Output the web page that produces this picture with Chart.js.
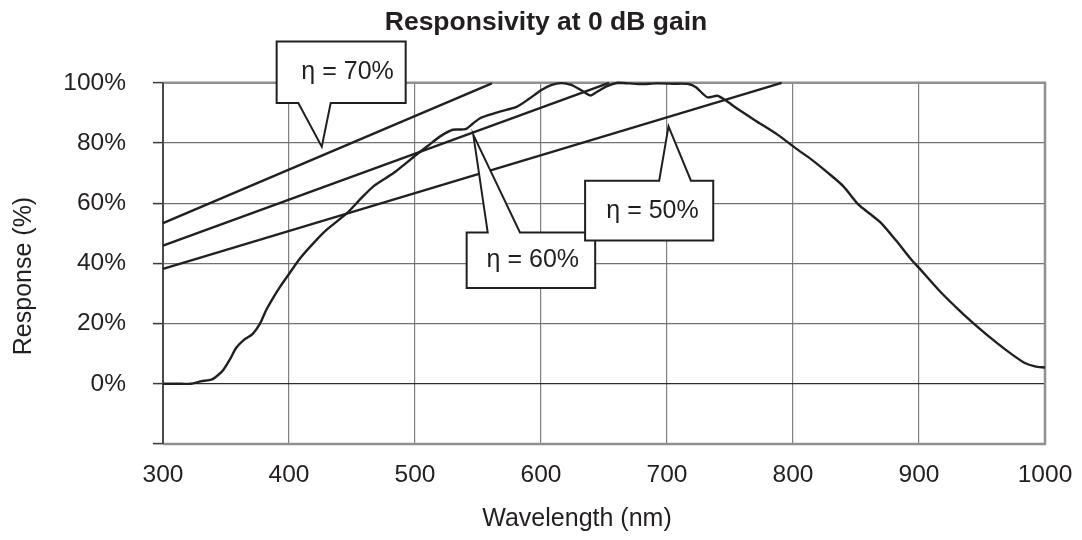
<!DOCTYPE html>
<html>
<head>
<meta charset="utf-8">
<script src="https://cdn.jsdelivr.net/npm/chart.js@4.4.1/dist/chart.umd.min.js"></script>
<style>
  html, body { margin: 0; padding: 0; background: #fff; }
  #wrap { width: 1082px; height: 540px; }
</style>
</head>
<body>
<div id="wrap"><canvas id="chart" width="1082" height="540"></canvas></div>
<script>
/* ── Data ────────────────────────────────────────────────── */
const wavelengths = [300, 315, 322, 330, 339, 344, 348, 353, 358, 364, 371, 377, 382, 388, 393, 400,
  409, 420, 430, 446, 457, 467, 483, 492, 501, 510, 520, 530, 540, 546, 552, 560, 568, 581, 590,
  600, 608, 616, 624, 632, 639, 643, 652, 661, 670, 679, 692, 705, 717, 723, 732, 740, 747, 755,
  770, 788, 802, 815, 828, 840, 852, 861, 870, 882, 894, 900, 916, 933, 949, 962, 974, 984, 992, 1000];
const response = [0, 0, 0, 0.8, 1.5, 3, 4.7, 8, 11.9, 14.5, 16.5, 20, 24.6, 29, 32.3, 36.5,
  41.8, 47, 51.2, 56.7, 61.5, 65.6, 70, 73, 76.1, 79, 82.2, 84.4, 84.6, 86.5, 88.3, 89.5, 90.5, 92.1, 94.5,
  97.5, 99.2, 99.9, 99.3, 97.5, 95.8, 96.6, 98.8, 100, 99.8, 99.6, 99.8, 99.7, 99.6, 98.5, 95.2, 95.7, 94, 91.6,
  87.5, 82.7, 78.3, 74.4, 70, 65.6, 59.5, 56.5, 53.4, 47.5, 41.2, 38.5, 31, 24, 18, 13.5, 9.7, 6.9, 5.8, 5.4];

// quantum-efficiency reference lines (straight, start at 300 nm)
const etaLabels   = ['η = 70%', 'η = 60%', 'η = 50%'];
const etaStartNm  = [300, 300, 300];
const etaStartPct = [53.4, 45.9, 38.2];
const etaEndNm    = [561, 654, 791];
const etaEndPct   = [99.8, 100, 100];

const xTicks = [300, 400, 500, 600, 700, 800, 900, 1000];
const yTicks = [-20, 0, 20, 40, 60, 80, 100];

/* ── Callout boxes (data coords) ─────────────────────────── */
const callouts = [
  { text: etaLabels[1], box: [541, 643, 50.3, 31.8], edge: 'top',    base: [557.7, 583.3], tip: [546.3, 82.7], at: [593.5, 41.0] },
  { text: etaLabels[2], box: [635, 736.7, 67.5, 47.6], edge: 'top',  base: [693.8, 719],   tip: [701.2, 85.5], at: [688.5, 57.4] },
  { text: etaLabels[0], box: [390.2, 492.6, 113.7, 93.3], edge: 'bottom', base: [407.4, 433.1], tip: [426, 78.8], at: [446.5, 103.6] }
];

const INK = '#231f20';
const FONT = '"Liberation Sans", Arial, Helvetica, sans-serif';

const calloutPlugin = {
  id: 'callouts',
  afterDatasetsDraw(chart) {
    const { ctx, scales: { x, y } } = chart;
    ctx.save();
    callouts.forEach(c => {
      const x1 = x.getPixelForValue(c.box[0]), x2 = x.getPixelForValue(c.box[1]);
      const yT = y.getPixelForValue(c.box[2]), yB = y.getPixelForValue(c.box[3]);
      const b1 = x.getPixelForValue(c.base[0]), b2 = x.getPixelForValue(c.base[1]);
      const tx = x.getPixelForValue(c.tip[0]), ty = y.getPixelForValue(c.tip[1]);
      ctx.beginPath();
      if (c.edge === 'top') {
        ctx.moveTo(x1, yT); ctx.lineTo(b1, yT); ctx.lineTo(tx, ty); ctx.lineTo(b2, yT);
        ctx.lineTo(x2, yT); ctx.lineTo(x2, yB); ctx.lineTo(x1, yB);
      } else {
        ctx.moveTo(x1, yT); ctx.lineTo(x2, yT); ctx.lineTo(x2, yB); ctx.lineTo(b2, yB);
        ctx.lineTo(tx, ty); ctx.lineTo(b1, yB); ctx.lineTo(x1, yB);
      }
      ctx.closePath();
      ctx.fillStyle = '#fff';
      ctx.fill();
      ctx.lineWidth = 2;
      ctx.strokeStyle = INK;
      ctx.lineJoin = 'miter';
      ctx.stroke();
      ctx.fillStyle = INK;
      ctx.font = `25px ${FONT}`;
      ctx.textAlign = 'center';
      ctx.textBaseline = 'middle';
      ctx.fillText(c.text, x.getPixelForValue(c.at[0]), y.getPixelForValue(c.at[1]));
    });
    ctx.restore();
  }
};

const framePlugin = {
  id: 'frame',
  beforeDatasetsDraw(chart) {
    const { ctx, chartArea: a } = chart;
    ctx.save();
    ctx.strokeStyle = '#8e9092';
    ctx.lineWidth = 2.5;
    ctx.beginPath();
    ctx.moveTo(a.left, a.top); ctx.lineTo(a.right, a.top);
    ctx.lineTo(a.right, a.bottom); ctx.lineTo(a.left, a.bottom);
    ctx.stroke();
    ctx.strokeStyle = '#4a4a4a';
    ctx.lineWidth = 2;
    ctx.beginPath();
    ctx.moveTo(a.left, a.top); ctx.lineTo(a.left, a.bottom);
    ctx.stroke();
    ctx.restore();
  }
};

const axisTitlePlugin = {
  id: 'axisTitles',
  afterDraw(chart) {
    const { ctx } = chart;
    ctx.save();
    ctx.fillStyle = INK;
    ctx.font = `25px ${FONT}`;
    ctx.textAlign = 'center';
    ctx.textBaseline = 'middle';
    ctx.fillText('Wavelength (nm)', 577, 519);
    ctx.translate(24, 276);
    ctx.rotate(-Math.PI / 2);
    ctx.fillText('Response (%)', 0, 0);
    ctx.restore();
  }
};

const lineStyle = { borderColor: INK, borderWidth: 2.4, pointRadius: 0, fill: false, clip: 4 };

new Chart(document.getElementById('chart'), {
  type: 'line',
  data: {
    datasets: [
      { label: 'Responsivity', data: wavelengths.map((w, i) => ({ x: w, y: response[i] })), tension: 0.25, ...lineStyle },
      ...etaLabels.map((l, i) => ({
        label: l,
        data: [{ x: etaStartNm[i], y: etaStartPct[i] }, { x: etaEndNm[i], y: etaEndPct[i] }],
        tension: 0,
        ...lineStyle
      }))
    ]
  },
  options: {
    responsive: false,
    animation: false,
    layout: { padding: { left: 47, right: 37, top: 0, bottom: 0 } },
    plugins: {
      legend: { display: false },
      tooltip: { enabled: false },
      title: {
        display: true,
        text: 'Responsivity at 0 dB gain',
        color: INK,
        font: { family: FONT, size: 26.5, weight: 'bold' },
        padding: { top: 7, bottom: 44 }
      }
    },
    scales: {
      x: {
        type: 'linear',
        min: 300, max: 1000,
        afterBuildTicks: s => { s.ticks = xTicks.map(v => ({ value: v })); },
        afterFit: s => { s.height = 96; s.paddingLeft = 0; s.paddingRight = 0; },
        ticks: {
          color: INK, font: { family: FONT, size: 24.5 }, padding: 17, maxRotation: 0, autoSkip: false,
          callback: v => String(v)
        },
        grid: { color: '#7d7f81', lineWidth: 1.2, drawTicks: false },
        border: { display: false }
      },
      y: {
        min: -20, max: 100,
        afterBuildTicks: s => { s.ticks = yTicks.map(v => ({ value: v })); },
        afterFit: s => { s.width = 116; },
        ticks: {
          color: INK, font: { family: FONT, size: 24.5 }, padding: 27,
          callback: v => (v < 0 ? '' : v + '%')
        },
        grid: {
          color: ctx => (ctx.tick && ctx.tick.value === 0 ? '#2b2b2b' : '#6f7173'),
          lineWidth: 1.2,
          drawTicks: true, tickLength: 10, tickColor: '#3a3a3a', tickWidth: 1.5
        },
        border: { display: false }
      }
    }
  },
  plugins: [framePlugin, calloutPlugin, axisTitlePlugin]
});
</script>
</body>
</html>
